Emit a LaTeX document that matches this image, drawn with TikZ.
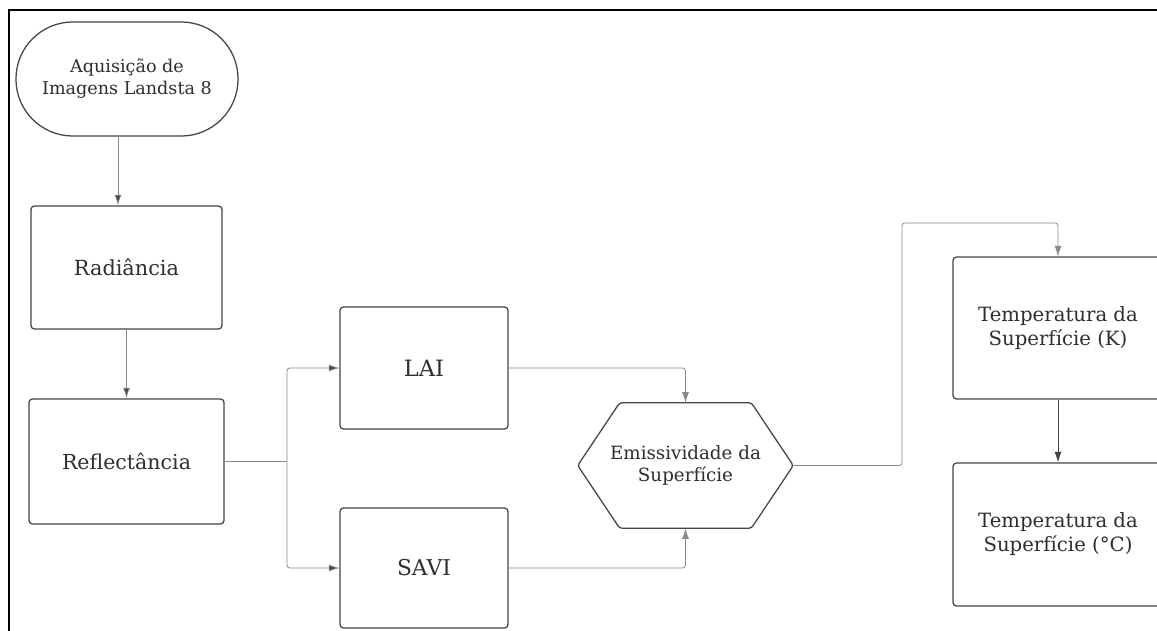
\documentclass[tikz,border=0pt]{standalone}
\usepackage{fontspec}
\setmainfont{DejaVu Serif}
\usetikzlibrary{arrows.meta}
\definecolor{boxgrey}{HTML}{454545}
\definecolor{linegrey}{HTML}{8A8A8A}
\definecolor{textgrey}{HTML}{2E2E2E}
\begin{document}
\begin{tikzpicture}[x=0.025cm,y=-0.025cm,
  box/.style={draw=boxgrey,line width=0.9pt,rounded corners=2.5pt,align=center,text=textgrey,inner sep=0pt},
  flow/.style={draw=boxgrey,line width=0.55pt,rounded corners=2pt,-{Latex[length=7.5pt,width=5pt]}},
  lightflow/.style={flow,draw=linegrey,-{Latex[length=7.5pt,width=5pt,fill=boxgrey]}}]
\useasboundingbox (0,0) rectangle (1157,631);
\fill[white] (0,0) rectangle (1157,631);
\draw[line width=1.6pt] (9,660) |- (1190,10);

\node[box,rounded corners=1.42cm,minimum width=5.55cm,minimum height=2.85cm,font=\fontsize{12.5}{15.5}\selectfont] (acq) at (127,79) {Aquisição de\\Imagens Landsta 8};
\node[box,minimum width=4.775cm,minimum height=3.075cm,font=\fontsize{14.8}{17}\selectfont] (rad) at (126.5,267.5) {Radiância};
\node[box,minimum width=4.875cm,minimum height=3.125cm,font=\fontsize{14.6}{17}\selectfont] (refl) at (126.5,461.5) {Reflectância};
\node[box,minimum width=4.2cm,minimum height=3.05cm,font=\fontsize{16}{18}\selectfont] (lai) at (424,368) {LAI};
\node[box,minimum width=4.2cm,minimum height=3.0cm,font=\fontsize{15.5}{18}\selectfont] (savi) at (424,568) {SAVI};
\node[align=center,text=textgrey,minimum width=5.375cm,minimum height=3.125cm,inner sep=0pt,font=\fontsize{13}{16}\selectfont] (emis) at (685.5,465.5) {Emissividade da\\Superfície};
\draw[draw=boxgrey,line width=0.9pt,rounded corners=2pt] (emis.west) -- ([xshift=1.05cm]emis.north west) -- ([xshift=-1.05cm]emis.north east) -- (emis.east) -- ([xshift=-1.05cm]emis.south east) -- ([xshift=1.05cm]emis.south west) -- cycle;
\node[box,minimum width=5.25cm,minimum height=3.55cm,font=\fontsize{14}{17}\selectfont] (tk) at (1058,328) {Temperatura da\\Superfície (K)};
\node[box,minimum width=5.25cm,minimum height=3.575cm,font=\fontsize{14}{17}\selectfont] (tc) at (1058,534.5) {Temperatura da\\Superfície (°C)};

\coordinate (split) at (287,461.5);
\coordinate (bend) at (902,223);

\draw[lightflow] ([xshift=-0.225cm]acq.south) -- ([xshift=-0.225cm]acq.south |- rad.north);
\draw[lightflow] (rad.south) -- (refl.north);
\draw[lightflow,-] (refl.east) -- (split);
\draw[lightflow] (split) |- (lai.west);
\draw[lightflow] (split) |- (savi.west);
\draw[flow,draw=linegrey] (lai.east) -| (emis.north);
\draw[flow,draw=linegrey] (savi.east) -| (emis.south);
\draw[flow,draw=linegrey] (emis.east) -| (bend) -| (tk.north);
\draw[flow] (tk.south) -- (tc.north);
\end{tikzpicture}
\end{document}
